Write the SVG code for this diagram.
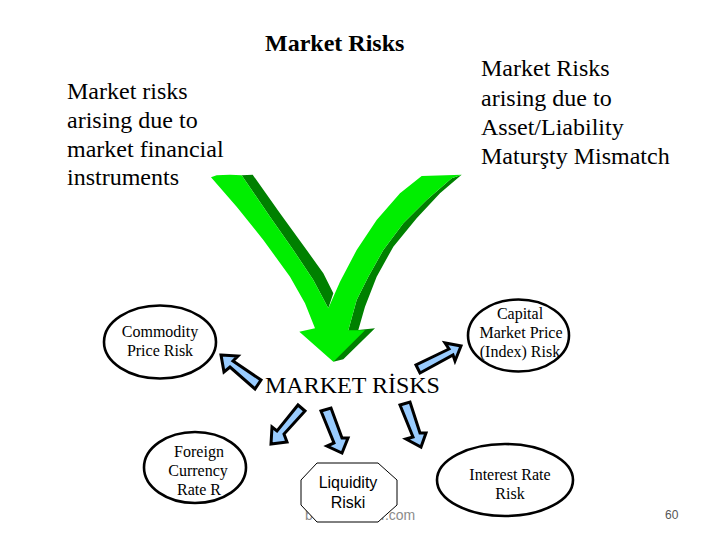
<svg xmlns="http://www.w3.org/2000/svg" width="720" height="540" viewBox="0 0 720 540">
<style>
text{font-family:"Liberation Serif","Times New Roman",serif;fill:#000}
.big{font-size:24px}
.sm{font-size:16px;text-anchor:middle}
.sans{font-family:"Liberation Sans",Arial,sans-serif}
.wm{font-size:14px;fill:#8c8c8c}
.node{fill:#fff;stroke:#000;stroke-width:2.6}
.ar{fill:#99ccff;stroke:#000;stroke-width:3;stroke-linejoin:miter}
</style>
<rect width="720" height="540" fill="#fff"/>
<text x="265" y="51" font-weight="bold" style="font-size:24px">Market Risks</text>
<g class="big">
<text x="481" y="76">Market Risks</text>
<text x="481" y="106">arising due to</text>
<text x="481" y="135">Asset/Liability</text>
<text x="481" y="164">Maturşty Mismatch</text>
<text x="67" y="99">Market risks</text>
<text x="67" y="128">arising due to</text>
<text x="67" y="157">market financial</text>
<text x="67" y="185">instruments</text>
</g>
<g id="big-arrow" transform="translate(180 150) scale(.33333)">
<path fill="#008000" d="M185 76L218 74L300 190L380 300L430 370L460 430L445 475L400 390L340 300L270 200ZM845 74L780 130L710 205L640 290L590 380L555 470L535 540L585 535L490 628L460 635L505 541L530 450L565 380L610 300L670 220L740 150L815 85Z"/>
<path fill="#00ee00" d="M93 82L110 76L150 74L185 76L270 200L340 300L400 390L445 475L480 395L530 300L590 210L660 130L725 78L845 74L815 85L740 150L670 220L610 300L565 380L530 450L505 541L555 541L460 635L358 545L405 535L375 460L330 380L250 270L170 170Z"/>
</g>
<text x="265" y="393" class="big">MARKET RİSKS</text>
<g id="connectors">
<polygon class="ar" points="221,355 238,356 233,361 261,380 255,389 230,367 224,372"/>
<polygon class="ar" points="298,405 305,411 284,434 287,442 271,444 272,427 277,431"/>
<polygon class="ar" points="321,411 331,408 342,438 348,438 342,453 327,446 334,443"/>
<polygon class="ar" points="400,405 410,402 420,433 426,433 421,447 406,439 413,437"/>
<polygon class="ar" points="416,365 420,373 453,355 455,361 461,346 445,343 449,349"/>
</g>
<g id="commodity"><ellipse class="node" cx="160" cy="342" rx="56" ry="36.5"/>
<text x="160" y="337" class="sm">Commodity</text><text x="160" y="356" class="sm">Price Risk</text></g>
<g id="capital"><ellipse class="node" cx="518.5" cy="335.5" rx="50.5" ry="36"/>
<text x="520" y="319" class="sm">Capital</text><text x="521" y="338" class="sm">Market Price</text><text x="520" y="357" class="sm">(Index) Risk</text></g>
<g id="foreign"><ellipse class="node" cx="195" cy="467.5" rx="51" ry="35.5"/>
<text x="199" y="457" class="sm">Foreign</text><text x="198" y="476" class="sm">Currency</text><text x="199" y="495" class="sm">Rate R</text></g>
<g id="interest"><ellipse class="node" cx="505" cy="480" rx="68" ry="36"/>
<text x="510" y="480" class="sm">Interest Rate</text><text x="510" y="499" class="sm">Risk</text></g>
<text x="305" y="520" class="sans wm">b</text>
<text x="381" y="520" class="sans wm">r.com</text>
<g id="liquidity"><polygon points="317,463 378,463 397,480 397,505 378,522 317,522 301,505 301,480" fill="#fff" stroke="#000" stroke-width="1"/>
<text x="348" y="488" class="sm sans">Liquidity</text><text x="348" y="508" class="sm sans">Riski</text></g>
<text x="665" y="519" class="sans wm" style="font-size:12px;fill:#555">60</text>
</svg>
